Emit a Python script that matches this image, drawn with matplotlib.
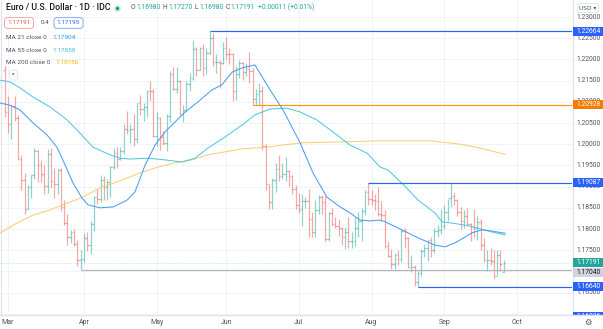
import numpy as np
import pandas as pd
import matplotlib
matplotlib.use('Agg')
import matplotlib.pyplot as plt
from matplotlib.lines import Line2D
from matplotlib.patches import Rectangle

plt.rcParams['font.family'] = ['Roboto', 'DejaVu Sans']

# daily bars, 26 Feb - 27 Sep
dates = pd.bdate_range('2021-02-26', '2021-09-27')

opens = [1.2175, 1.2075, 1.2048, 1.2090, 1.2062, 1.1965, 1.1916, 1.1848, 1.1900, 1.1928,
         1.1985, 1.1952, 1.1929, 1.1901, 1.1978, 1.1914, 1.1905, 1.1940, 1.1853, 1.1814,
         1.1780, 1.1794, 1.1765, 1.1728, 1.1730, 1.1779, 1.1762, 1.1812, 1.1875, 1.1871,
         1.1915, 1.1900, 1.1912, 1.1946, 1.1980, 1.1966, 1.1983, 1.2036, 1.2034, 1.2035,
         1.2012, 1.2097, 1.2083, 1.2088, 1.2126, 1.2125, 1.2020, 1.2062, 1.2017, 1.2004,
         1.2066, 1.2165, 1.2131, 1.2150, 1.2072, 1.2080, 1.2141, 1.2157, 1.2225, 1.2176,
         1.2226, 1.2180, 1.2214, 1.2250, 1.2193, 1.2193, 1.2192, 1.2228, 1.2213, 1.2212,
         1.2126, 1.2165, 1.2191, 1.2171, 1.2178, 1.2172, 1.2107, 1.2119, 1.2126, 1.1995,
         1.1906, 1.1864, 1.1915, 1.1941, 1.1925, 1.1930, 1.1936, 1.1925, 1.1895, 1.1857,
         1.1848, 1.1865, 1.1865, 1.1823, 1.1792, 1.1844, 1.1875, 1.1863, 1.1776, 1.1837,
         1.1812, 1.1807, 1.1802, 1.1781, 1.1794, 1.1771, 1.1771, 1.1802, 1.1819, 1.1842,
         1.1887, 1.1870, 1.1869, 1.1866, 1.1836, 1.1833, 1.1761, 1.1736, 1.1718, 1.1739,
         1.1730, 1.1795, 1.1778, 1.1711, 1.1711, 1.1676, 1.1697, 1.1747, 1.1755, 1.1773,
         1.1751, 1.1795, 1.1797, 1.1808, 1.1840, 1.1874, 1.1879, 1.1869, 1.1841, 1.1818,
         1.1830, 1.1812, 1.1805, 1.1803, 1.1817, 1.1763, 1.1727, 1.1727, 1.1724, 1.1690,
         1.1739, 1.1698]
highs = [1.2184, 1.2113, 1.2093, 1.2113, 1.2070, 1.1975, 1.1933, 1.1904, 1.1928, 1.1990,
         1.1987, 1.1962, 1.1952, 1.1989, 1.1990, 1.1944, 1.1942, 1.1943, 1.1868, 1.1835,
         1.1798, 1.1800, 1.1775, 1.1750, 1.1790, 1.1794, 1.1819, 1.1877, 1.1894, 1.1927,
         1.1926, 1.1918, 1.1948, 1.1990, 1.1994, 1.1994, 1.2048, 1.2079, 1.2048, 1.2071,
         1.2098, 1.2117, 1.2098, 1.2128, 1.2150, 1.2130, 1.2076, 1.2063, 1.2031, 1.2071,
         1.2173, 1.2182, 1.2181, 1.2151, 1.2093, 1.2150, 1.2168, 1.2245, 1.2229, 1.2230,
         1.2236, 1.2227, 1.2266, 1.2263, 1.2213, 1.2198, 1.2240, 1.2254, 1.2226, 1.2214,
         1.2185, 1.2198, 1.2194, 1.2192, 1.2218, 1.2180, 1.2130, 1.2144, 1.2137, 1.2000,
         1.1907, 1.1920, 1.1955, 1.1975, 1.1955, 1.1970, 1.1939, 1.1927, 1.1904, 1.1885,
         1.1882, 1.1875, 1.1895, 1.1839, 1.1868, 1.1880, 1.1880, 1.1880, 1.1840, 1.1850,
         1.1829, 1.1823, 1.1805, 1.1805, 1.1829, 1.1793, 1.1828, 1.1840, 1.1849, 1.1892,
         1.1909, 1.1892, 1.1883, 1.1900, 1.1865, 1.1845, 1.1772, 1.1753, 1.1744, 1.1750,
         1.1800, 1.1803, 1.1780, 1.1738, 1.1716, 1.1702, 1.1752, 1.1764, 1.1775, 1.1780,
         1.1802, 1.1810, 1.1846, 1.1857, 1.1870, 1.1909, 1.1886, 1.1871, 1.1853, 1.1844,
         1.1849, 1.1813, 1.1846, 1.1831, 1.1823, 1.1779, 1.1750, 1.1756, 1.1751, 1.1750,
         1.1750, 1.1727]
lows = [1.2063, 1.2026, 1.2012, 1.2055, 1.1962, 1.1893, 1.1836, 1.1846, 1.1873, 1.1917,
        1.1910, 1.1910, 1.1883, 1.1885, 1.1897, 1.1873, 1.1882, 1.1842, 1.1810, 1.1762,
        1.1768, 1.1760, 1.1712, 1.1704, 1.1722, 1.1748, 1.1740, 1.1796, 1.1858, 1.1864,
        1.1869, 1.1869, 1.1875, 1.1941, 1.1944, 1.1962, 1.1978, 1.2023, 1.2004, 1.1995,
        1.2003, 1.2070, 1.2054, 1.2063, 1.2101, 1.2016, 1.1995, 1.1986, 1.1999, 1.1985,
        1.2052, 1.2128, 1.2121, 1.2069, 1.2052, 1.2076, 1.2126, 1.2151, 1.2162, 1.2174,
        1.2160, 1.2165, 1.2212, 1.2185, 1.2168, 1.2133, 1.2190, 1.2201, 1.2188, 1.2103,
        1.2104, 1.2156, 1.2152, 1.2162, 1.2144, 1.2093, 1.2093, 1.2093, 1.1986, 1.1892,
        1.1847, 1.1848, 1.1887, 1.1914, 1.1918, 1.1913, 1.1902, 1.1882, 1.1847, 1.1838,
        1.1807, 1.1850, 1.1781, 1.1782, 1.1781, 1.1836, 1.1835, 1.1772, 1.1772, 1.1806,
        1.1802, 1.1784, 1.1763, 1.1752, 1.1756, 1.1755, 1.1760, 1.1781, 1.1771, 1.1833,
        1.1856, 1.1856, 1.1844, 1.1830, 1.1820, 1.1755, 1.1733, 1.1706, 1.1705, 1.1716,
        1.1723, 1.1756, 1.1708, 1.1699, 1.1666, 1.1664, 1.1689, 1.1735, 1.1725, 1.1734,
        1.1744, 1.1780, 1.1789, 1.1800, 1.1819, 1.1853, 1.1857, 1.1831, 1.1800, 1.1802,
        1.1810, 1.1771, 1.1780, 1.1775, 1.1750, 1.1723, 1.1700, 1.1715, 1.1684, 1.1688,
        1.1702, 1.1698]
closes = [1.2075, 1.2048, 1.2090, 1.2062, 1.1965, 1.1916, 1.1848, 1.1900, 1.1928, 1.1985,
          1.1952, 1.1929, 1.1901, 1.1978, 1.1914, 1.1905, 1.1940, 1.1853, 1.1814, 1.1780,
          1.1794, 1.1765, 1.1728, 1.1730, 1.1779, 1.1762, 1.1812, 1.1875, 1.1871, 1.1915,
          1.1900, 1.1912, 1.1946, 1.1980, 1.1966, 1.1983, 1.2036, 1.2034, 1.2035, 1.2012,
          1.2097, 1.2083, 1.2088, 1.2126, 1.2125, 1.2020, 1.2062, 1.2017, 1.2004, 1.2066,
          1.2165, 1.2131, 1.2150, 1.2072, 1.2080, 1.2141, 1.2157, 1.2225, 1.2176, 1.2226,
          1.2180, 1.2214, 1.2250, 1.2193, 1.2193, 1.2192, 1.2228, 1.2213, 1.2212, 1.2126,
          1.2165, 1.2191, 1.2171, 1.2178, 1.2172, 1.2107, 1.2119, 1.2126, 1.1995, 1.1906,
          1.1864, 1.1915, 1.1941, 1.1925, 1.1930, 1.1936, 1.1925, 1.1895, 1.1857, 1.1848,
          1.1865, 1.1865, 1.1823, 1.1792, 1.1844, 1.1875, 1.1863, 1.1776, 1.1837, 1.1812,
          1.1807, 1.1802, 1.1781, 1.1794, 1.1771, 1.1771, 1.1802, 1.1819, 1.1842, 1.1887,
          1.1870, 1.1869, 1.1866, 1.1836, 1.1833, 1.1761, 1.1736, 1.1718, 1.1739, 1.1730,
          1.1795, 1.1778, 1.1711, 1.1711, 1.1676, 1.1697, 1.1747, 1.1755, 1.1773, 1.1751,
          1.1795, 1.1797, 1.1808, 1.1840, 1.1874, 1.1879, 1.1869, 1.1841, 1.1818, 1.1830,
          1.1812, 1.1805, 1.1803, 1.1817, 1.1763, 1.1727, 1.1727, 1.1724, 1.1690, 1.1739,
          1.1718, 1.17191]

# moving averages (bar position, price)
ma21_x = [-1.4, 1.6, 4.6, 8.6, 12.8, 15.8, 17.6, 20.7, 23.4, 25.2, 28.8, 32.8, 37.0, 39.4,
          42.5, 45.5, 48.5, 51.5, 54.6, 58.5, 62.7, 65.7, 68.8, 71.8, 75.7, 80.3, 84.2, 89.4,
          93.3, 97.5, 101.5, 104.5, 107.5, 110.5, 113.6, 115.1, 120.2, 125.1, 130.2, 133.2,
          136.2, 139.3, 141.4, 144.4, 147.4, 151.4]
ma21_y = [1.2097, 1.2092, 1.2081, 1.2050, 1.2022, 1.1993, 1.1963, 1.1908, 1.1873, 1.1857,
          1.1850, 1.1852, 1.1868, 1.1887, 1.1951, 1.1998, 1.2029, 1.2052, 1.2076, 1.2100,
          1.2128, 1.2140, 1.2170, 1.2180, 1.2187, 1.2128, 1.2081, 1.2003, 1.1932, 1.1875,
          1.1852, 1.1838, 1.1821, 1.1819, 1.1821, 1.1817, 1.1798, 1.1779, 1.1762, 1.1758,
          1.1767, 1.1781, 1.1791, 1.1798, 1.1795, 1.1790]
ma55_x = [-1.4, 1.6, 4.6, 8.6, 13.7, 18.9, 22.8, 26.7, 31.9, 34.9, 37.9, 43.4, 48.5, 53.6,
          57.6, 61.5, 66.7, 71.8, 75.7, 80.3, 85.4, 89.4, 94.5, 99.3, 104.5, 109.6, 113.6,
          116.0, 120.2, 125.1, 130.2, 132.3, 135.3, 139.3, 143.2, 147.4, 151.4]
ma55_y = [1.2151, 1.2147, 1.2133, 1.2111, 1.2088, 1.2057, 1.2026, 1.1993, 1.1975, 1.1967,
          1.1965, 1.1967, 1.1963, 1.1958, 1.1967, 1.1991, 1.2017, 1.2045, 1.2069, 1.2083,
          1.2085, 1.2076, 1.2057, 1.2029, 1.1998, 1.1979, 1.1946, 1.1939, 1.1908, 1.1868,
          1.1838, 1.1817, 1.1814, 1.1809, 1.1802, 1.1793, 1.1786]
ma200_x = [-1.4, 3.7, 8.6, 13.7, 18.9, 23.7, 28.8, 34.0, 37.9, 41.5, 46.4, 51.5, 56.7, 61.5,
           66.7, 71.8, 79.4, 84.2, 89.4, 99.3, 113.6, 128.7, 137.8, 143.8, 151.4]
ma200_y = [1.1791, 1.1814, 1.1833, 1.1845, 1.1861, 1.1875, 1.1897, 1.1911, 1.1923, 1.1934,
           1.1946, 1.1956, 1.1963, 1.1975, 1.1982, 1.1989, 1.1993, 1.1998, 1.2003, 1.2005,
           1.2008, 1.2008, 1.2000, 1.1991, 1.1976]

# horizontal levels: price, first bar, colour
levels = [1.22664, 1.20928, 1.19087, 1.16640, 1.17040]
level_start = [62, 75, 110, 125, 23]
level_colors = ['#2962ff', '#ff9800', '#2962ff', '#2962ff', '#b2b5be']

W, H = 603, 329
fig = plt.figure(figsize=(W / 100, H / 100), dpi=100)
fig.patch.set_facecolor('white')

def fx(px):
    return px / W

def fy(py):
    return 1 - py / H

ylo, yhi = 1.23 - 298 / 4240, 1.23 + 17 / 4240
xlo, xhi = -1.42, 171.65

ax = fig.add_axes([0, fy(315), fx(572), 315 / H])
ax.set_xlim(xlo, xhi)
ax.set_ylim(ylo, yhi)
ax.axis('off')

x = np.arange(len(dates))
month_pos = [i for i in range(1, len(dates)) if dates[i].month != dates[i - 1].month]
month_pos.append(month_pos[-1] + 22)   # Oct
month_lab = ['Mar', 'Apr', 'May', 'Jun', 'Jul', 'Aug', 'Sep', 'Oct']

grid = np.arange(1.160, 1.2301, 0.005)
for g in grid:
    ax.axhline(g, color='#f0f3fa', lw=0.7, zorder=0)
for m in month_pos:
    ax.axvline(m, color='#f0f3fa', lw=0.7, zorder=0)
ax.axvline(xlo + 0.3, color='#e0e3eb', lw=0.8)

o, hh, ll, c = map(np.array, (opens, highs, lows, closes))
col = np.where(c >= o, '#26a69a', '#ef5350')
ax.vlines(x, ll, hh, colors=col, lw=0.9, alpha=0.5)
ax.hlines(o, x - 0.45, x, colors=col, lw=0.9, alpha=0.5)
ax.hlines(c, x, x + 0.45, colors=col, lw=0.9, alpha=0.5)

ax.plot(ma200_x, ma200_y, color='#fbc55b', lw=0.75, alpha=0.85)
ax.plot(ma55_x, ma55_y, color='#4fc9e3', lw=0.75)
ax.plot(ma21_x, ma21_y, color='#4a9df2', lw=0.75)

ax.axhline(closes[-1], color='#26a69a', lw=0.5, alpha=0.35, ls=(0, (1, 1)))
for lv, st, lc in zip(levels, level_start, level_colors):
    ax.hlines(lv, st, xhi, colors=lc, lw=0.85)

# price scale
ax2 = fig.add_axes([fx(572), fy(315), fx(31), 315 / H])
ax2.set_xlim(0, 1)
ax2.set_ylim(ylo, yhi)
ax2.axis('off')
ax2.axvline(0.02, color='#e0e3eb', lw=1)
for g in grid[1:]:
    ax2.text(0.53, g, f'{g:.5f}', ha='center', va='center', fontsize=4.9, color='#50535e')

box_h = 9 / 4240
tags = [(1.22664, '1.22664', '#2962ff', 'white', 1.22664),
        (1.20928, '1.20928', '#f57c00', 'white', 1.20928),
        (1.19087, '1.19087', '#2962ff', 'white', 1.19087),
        (1.17191, '1.17191', '#26a69a', 'white', 1.17191 + 0.0002),
        (1.17040, '1.17040', '#d1d4dc', '#131722', 1.17040 - 0.0006),
        (1.16640, '1.16640', '#2962ff', 'white', 1.16640),
        (1.16026, '1.16026', '#2962ff', 'white', 1.15945)]
for lv, txt, fc, tc, yc in tags:
    ax2.add_patch(Rectangle((0.03, yc - box_h / 2), 0.97, box_h, fc=fc, ec='none', zorder=3))
    ax2.text(0.53, yc, txt, ha='center', va='center', fontsize=4.9, color=tc, zorder=4,
             clip_on=True)

# time scale
ax3 = fig.add_axes([0, 0, fx(572), 14 / H])
ax3.set_xlim(xlo, xhi)
ax3.set_ylim(0, 1)
ax3.axis('off')
ax3.axhline(0.97, color='#e0e3eb', lw=1)
for m, lab in zip(month_pos, month_lab):
    ax3.text(m, 0.45, lab, ha='center', va='center', fontsize=5, color='#50535e')

fig.add_artist(Line2D([fx(572), fx(603)], [fy(315), fy(315)], color='#e0e3eb', lw=1))
fig.text(fx(588), fy(322), '\u2699', ha='center', va='center', fontsize=6,
         color='#50535e', family=['DejaVu Sans'])
fig.text(fx(588), fy(8), 'USD \u25be', ha='center', va='center', fontsize=4.2,
         color='#50535e', family=['DejaVu Sans'],
         bbox=dict(boxstyle='round,pad=0.35', fc='white', ec='#e0e3eb', lw=0.6))

# header
fig.text(fx(6), fy(7.5), 'Euro / U.S. Dollar \u00b7 1D \u00b7 IDC', ha='left', va='center',
         fontsize=6.3, color='#131722', weight='medium')
fig.add_artist(Line2D([fx(117)], [fy(7.5)], marker='o', ms=5, color='#c8ebe6', mec='none'))
fig.add_artist(Line2D([fx(117)], [fy(7.5)], marker='o', ms=2.4, color='#089981', mec='none'))

renderer = fig.canvas.get_renderer()
ohlc = [('O', '#50535e', 0.6), ('1.16980', '#26a69a', 2.5),
        ('H', '#50535e', 0.6), ('1.17270', '#26a69a', 2.5),
        ('L', '#50535e', 0.6), ('1.16980', '#26a69a', 2.5),
        ('C', '#50535e', 0.6), ('1.17191', '#26a69a', 2.5),
        ('+0.00011 (+0.01%)', '#26a69a', 0)]
px = 131
for t, cc, gap in ohlc:
    tx = fig.text(fx(px), fy(7.5), t, ha='left', va='center', fontsize=4.9, color=cc)
    px = tx.get_window_extent(renderer).x1 + gap

fig.text(fx(19), fy(23), '1.17191', ha='center', va='center', fontsize=4.6, color='#ef5350',
         bbox=dict(boxstyle='round,pad=0.45', fc='white', ec='#f7a9a7', lw=0.7))
fig.text(fx(45), fy(23), '0.4', ha='center', va='center', fontsize=4.4, color='#50535e')
fig.text(fx(68.5), fy(23), '1.17195', ha='center', va='center', fontsize=4.6, color='#2962ff',
         bbox=dict(boxstyle='round,pad=0.45', fc='white', ec='#8fa8f5', lw=0.7))

legend_rows = [(37.7, 'MA 21 close 0', '1.17904', '#2196f3', 52),
               (50, 'MA 55 close 0', '1.17858', '#3fc1d8', 52),
               (62, 'MA 200 close 0', '1.19756', '#f5b400', 55)]
for py, name, val, vc, vx in legend_rows:
    fig.text(fx(6), fy(py), name, ha='left', va='center', fontsize=4.6, color='#50535e')
    fig.text(fx(vx), fy(py), val, ha='left', va='center', fontsize=4.6, color=vc)
fig.text(fx(13.5), fy(75), '^', ha='center', va='center', fontsize=4.5, color='#131722',
         bbox=dict(boxstyle='round,pad=0.4', fc='white', ec='#e0e3eb', lw=0.6))

fig.savefig('out.png', dpi=100, facecolor='white')
